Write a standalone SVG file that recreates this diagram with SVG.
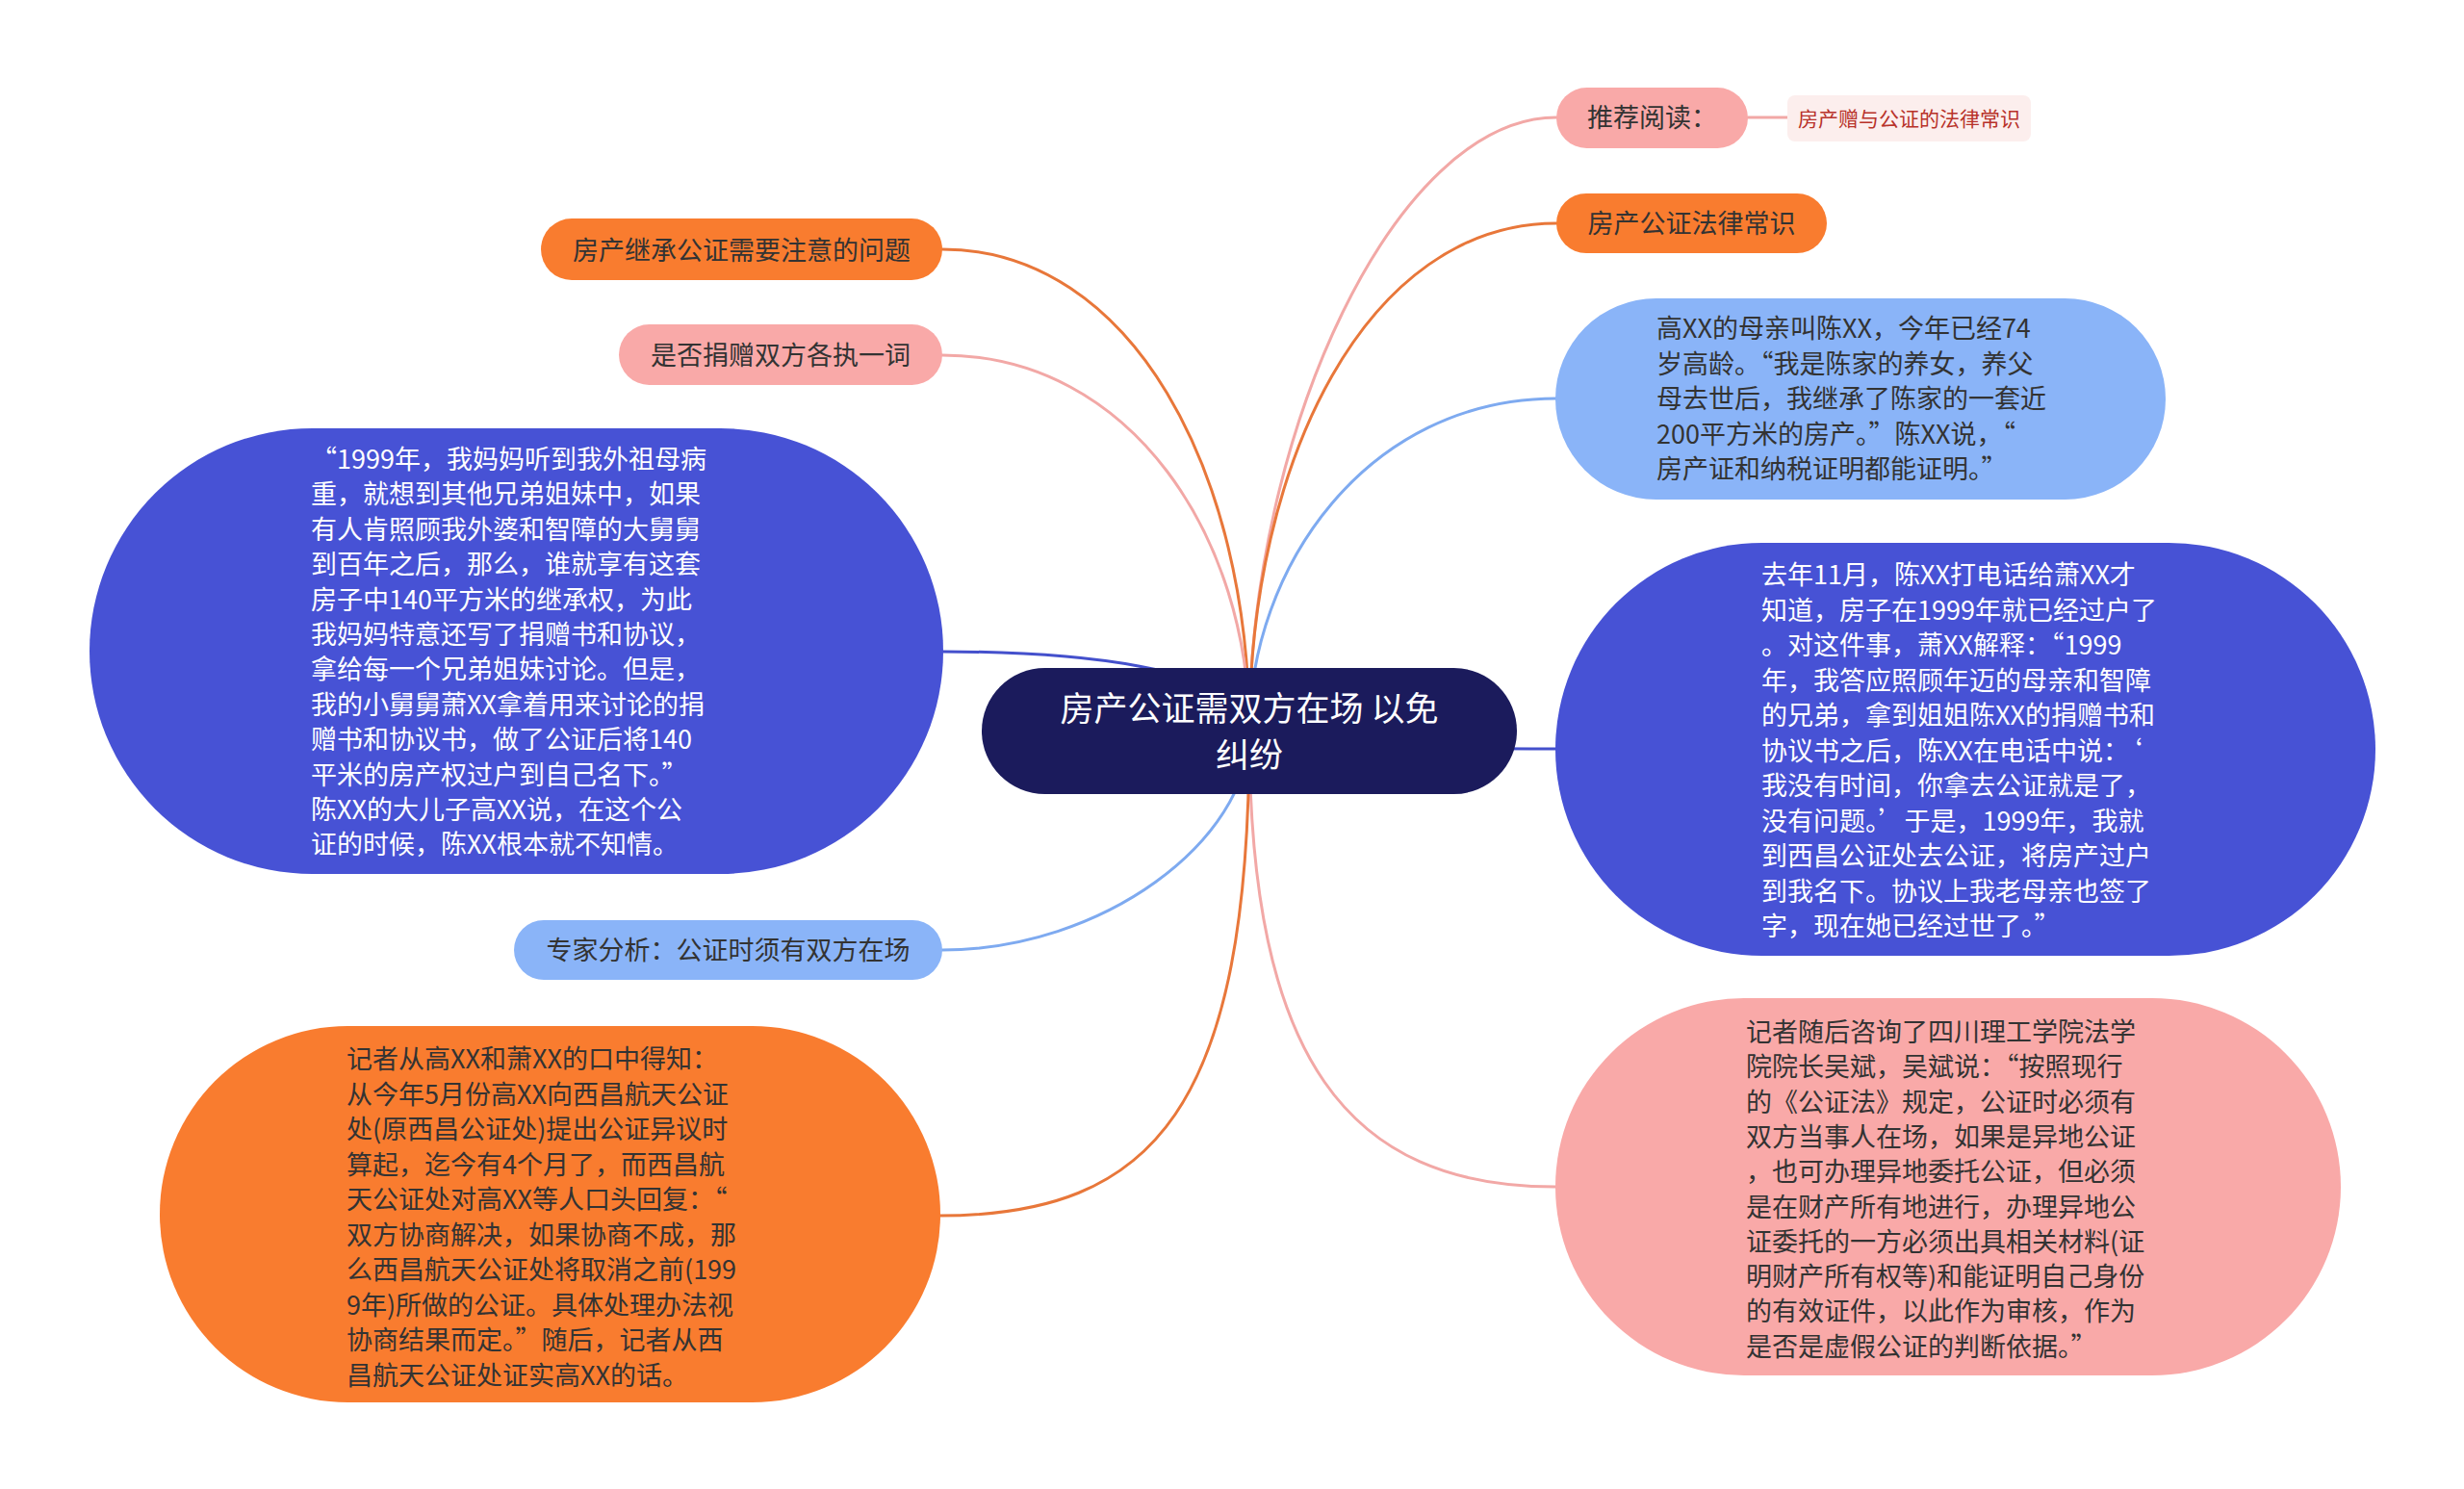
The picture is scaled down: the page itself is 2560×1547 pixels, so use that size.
<svg xmlns="http://www.w3.org/2000/svg" width="2560" height="1547" viewBox="0 0 2560 1547">
<style>
text{font-family:"Noto Sans CJK SC","Noto Sans",sans-serif;font-size:27px;}
.dk{fill:#333333;}
.wt{fill:#ffffff;}
.mid{text-anchor:middle;}
.c{fill:none;stroke-width:3;stroke-linecap:round;}
.cp{stroke:#f2a8a6;}
.co{stroke:#e8773a;}
.cl{stroke:#7eaaf0;}
.cb{stroke:#4450cc;}
.fo{fill:#f97c2f;}
.fp{fill:#f9a9a8;}
.fl{fill:#8ab4f8;}
.fb{fill:#4752d5;}
</style>
<rect width="2560" height="1547" fill="#ffffff"/>
<g id="connectors">
<path class="c cp" d="M1298 760 C1298 450 1450 122 1617 122"/>
<path class="c cp" d="M1816 122 L1857 122"/>
<path class="c co" d="M1298 760 C1298 480 1420 232 1617 232"/>
<path class="c cl" d="M1298 760 C1298 590 1420 414 1617 414"/>
<path class="c cb" d="M1298 760 C1400 778 1500 778 1616 778"/>
<path class="c cp" d="M1298 760 C1298 1100 1400 1233 1616 1233"/>
<path class="c co" d="M1298 760 C1298 490 1176 259 979 259"/>
<path class="c cp" d="M1298 760 C1298 560 1176 369 979 369"/>
<path class="c cb" d="M1298 760 C1298 690 1100 677 980 677"/>
<path class="c cl" d="M1298 760 C1298 874 1145 987 979 987"/>
<path class="c co" d="M1298 760 C1298 1150 1200 1263 976 1263"/>
</g>
<g id="root">
<rect x="1020" y="694" width="556" height="131" rx="65.5" fill="#1b1b5c"/>
<text class="wt mid" x="1298" y="749" style="font-size:35px">房产公证需双方在场 以免</text>
<text class="wt mid" x="1298" y="797" style="font-size:35px">纠纷</text>
</g>
<g id="n-tuijian">
<rect class="fp" x="1617" y="91" width="199" height="63" rx="31.5"/>
<text class="dk mid" x="1716.5" y="132">推荐阅读：</text>
</g>
<g id="n-zengyu">
<rect x="1857" y="99" width="253" height="48" rx="8" fill="#fceeed"/>
<text class="mid" x="1983.5" y="131" style="font-size:21px;fill:#b8322a">房产赠与公证的法律常识</text>
</g>
<g id="n-changshi">
<rect class="fo" x="1617" y="201" width="281" height="62" rx="31"/>
<text class="dk mid" x="1757.5" y="242">房产公证法律常识</text>
</g>
<g id="n-jicheng">
<rect class="fo" x="562" y="227" width="417" height="64" rx="32"/>
<text class="dk mid" x="770.5" y="270">房产继承公证需要注意的问题</text>
</g>
<g id="n-juanzeng">
<rect class="fp" x="643" y="337" width="336" height="63" rx="31.5"/>
<text class="dk mid" x="811" y="379">是否捐赠双方各执一词</text>
</g>
<g id="n-quote-left">
<rect class="fb" x="93" y="445" width="887" height="463" rx="231.5"/>
<text class="wt" x="323">
<tspan x="323" y="487">“1999年，我妈妈听到我外祖母病</tspan>
<tspan x="323" y="523.4">重，就想到其他兄弟姐妹中，如果</tspan>
<tspan x="323" y="559.8">有人肯照顾我外婆和智障的大舅舅</tspan>
<tspan x="323" y="596.2">到百年之后，那么，谁就享有这套</tspan>
<tspan x="323" y="632.6">房子中140平方米的继承权，为此</tspan>
<tspan x="323" y="669">我妈妈特意还写了捐赠书和协议，</tspan>
<tspan x="323" y="705.4">拿给每一个兄弟姐妹讨论。但是，</tspan>
<tspan x="323" y="741.8">我的小舅舅萧XX拿着用来讨论的捐</tspan>
<tspan x="323" y="778.2">赠书和协议书，做了公证后将140</tspan>
<tspan x="323" y="814.6">平米的房产权过户到自己名下。”</tspan>
<tspan x="323" y="851">陈XX的大儿子高XX说，在这个公</tspan>
<tspan x="323" y="887.4">证的时候，陈XX根本就不知情。</tspan>
</text>
</g>
<g id="n-mother">
<rect class="fl" x="1616" y="310" width="634" height="209" rx="104.5"/>
<text class="dk" x="1721">
<tspan x="1721" y="351">高XX的母亲叫陈XX，今年已经74</tspan>
<tspan x="1721" y="387.5">岁高龄。“我是陈家的养女，养父</tspan>
<tspan x="1721" y="424">母去世后，我继承了陈家的一套近</tspan>
<tspan x="1721" y="460.5">200平方米的房产。”陈XX说，“</tspan>
<tspan x="1721" y="497">房产证和纳税证明都能证明。”</tspan>
</text>
</g>
<g id="n-xiao">
<rect class="fb" x="1616" y="564" width="852" height="429" rx="214.5"/>
<text class="wt" x="1830">
<tspan x="1830" y="607">去年11月，陈XX打电话给萧XX才</tspan>
<tspan x="1830" y="643.5">知道，房子在1999年就已经过户了</tspan>
<tspan x="1830" y="680">。对这件事，萧XX解释：“1999</tspan>
<tspan x="1830" y="716.5">年，我答应照顾年迈的母亲和智障</tspan>
<tspan x="1830" y="753">的兄弟，拿到姐姐陈XX的捐赠书和</tspan>
<tspan x="1830" y="789.5">协议书之后，陈XX在电话中说：‘</tspan>
<tspan x="1830" y="826">我没有时间，你拿去公证就是了，</tspan>
<tspan x="1830" y="862.5">没有问题。’于是，1999年，我就</tspan>
<tspan x="1830" y="899">到西昌公证处去公证，将房产过户</tspan>
<tspan x="1830" y="935.5">到我名下。协议上我老母亲也签了</tspan>
<tspan x="1830" y="972">字，现在她已经过世了。”</tspan>
</text>
</g>
<g id="n-zhuanjia">
<rect class="fl" x="534" y="956" width="445" height="62" rx="31"/>
<text class="dk mid" x="756.5" y="997">专家分析：公证时须有双方在场</text>
</g>
<g id="n-reporter">
<rect class="fo" x="166" y="1066" width="811" height="391" rx="195.5"/>
<text class="dk" x="360">
<tspan x="360" y="1110">记者从高XX和萧XX的口中得知：</tspan>
<tspan x="360" y="1146.5">从今年5月份高XX向西昌航天公证</tspan>
<tspan x="360" y="1183">处(原西昌公证处)提出公证异议时</tspan>
<tspan x="360" y="1219.5">算起，迄今有4个月了，而西昌航</tspan>
<tspan x="360" y="1256">天公证处对高XX等人口头回复：“</tspan>
<tspan x="360" y="1292.5">双方协商解决，如果协商不成，那</tspan>
<tspan x="360" y="1329">么西昌航天公证处将取消之前(199</tspan>
<tspan x="360" y="1365.5">9年)所做的公证。具体处理办法视</tspan>
<tspan x="360" y="1402">协商结果而定。”随后，记者从西</tspan>
<tspan x="360" y="1438.5">昌航天公证处证实高XX的话。</tspan>
</text>
</g>
<g id="n-expert">
<rect class="fp" x="1616" y="1037" width="816" height="392" rx="196"/>
<text class="dk" x="1814">
<tspan x="1814" y="1082">记者随后咨询了四川理工学院法学</tspan>
<tspan x="1814" y="1118.3">院院长吴斌，吴斌说：“按照现行</tspan>
<tspan x="1814" y="1154.6">的《公证法》规定，公证时必须有</tspan>
<tspan x="1814" y="1190.9">双方当事人在场，如果是异地公证</tspan>
<tspan x="1814" y="1227.2">，也可办理异地委托公证，但必须</tspan>
<tspan x="1814" y="1263.5">是在财产所有地进行，办理异地公</tspan>
<tspan x="1814" y="1299.8">证委托的一方必须出具相关材料(证</tspan>
<tspan x="1814" y="1336.1">明财产所有权等)和能证明自己身份</tspan>
<tspan x="1814" y="1372.4">的有效证件，以此作为审核，作为</tspan>
<tspan x="1814" y="1408.7">是否是虚假公证的判断依据。”</tspan>
</text>
</g>
</svg>
